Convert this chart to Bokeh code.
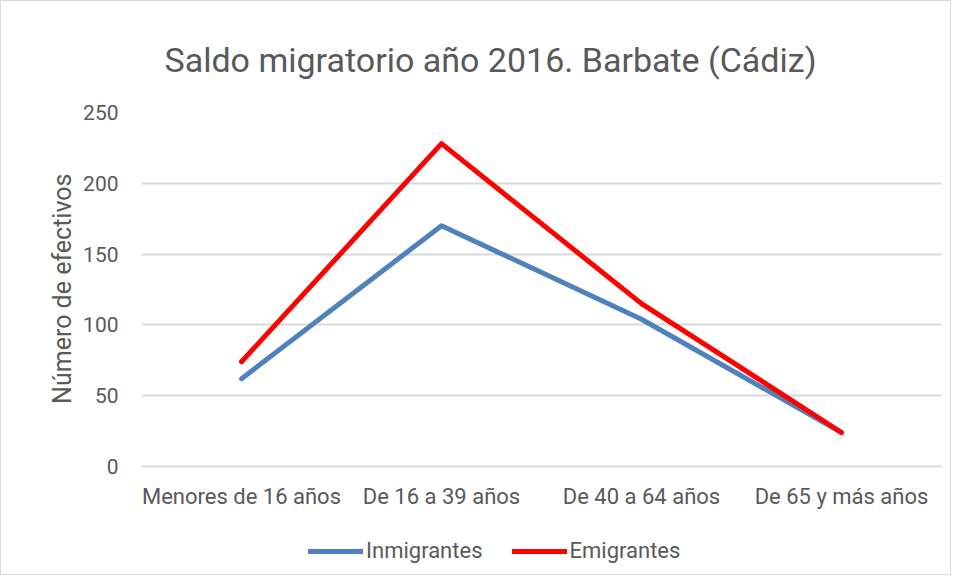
from bokeh.plotting import figure
from bokeh.models import Legend, LegendItem, ColumnDataSource, FixedTicker, Title
from bokeh.embed import file_html
from bokeh.resources import INLINE

categorias = ["Menores de 16 años", "De 16 a 39 años", "De 40 a 64 años", "De 65 y más años"]
inmigrantes = [62, 170, 104, 24]
emigrantes = [74, 228, 115, 24]
y_ticks = [0, 50, 100, 150, 200, 250]

FONT = "Roboto"
TXT = "#595959"

src = ColumnDataSource(dict(cat=categorias, inm=inmigrantes, emi=emigrantes))

# frame runs from y=111 to y=575; the value axis 0..250 occupies 111..465,
# the space below 0 holds the category labels and the legend
H, TOP, ZERO_PX = 575, 111, 465
y_start = -(H - ZERO_PX) * 250 / (ZERO_PX - TOP)

p = figure(x_range=categorias, y_range=(y_start, 250), width=951, height=H,
           output_backend="svg", toolbar_location=None,
           min_border_left=140, min_border_right=11, min_border_top=TOP, min_border_bottom=0)

p.title.text = "Saldo migratorio año 2016. Barbate (Cádiz)"
p.title.text_font = FONT
p.title.text_font_size = "34px"
p.title.text_font_style = "normal"
p.title.text_color = TXT
p.title.align = "left"
p.title.offset = 23
p.title.standoff = 66

p.outline_line_color = None
p.styles = {"border": "1px solid #d9d9d9"}

r1 = p.line("cat", "inm", source=src, line_color="#4f81bd", line_width=5, line_join="round", line_cap="round")
r2 = p.line("cat", "emi", source=src, line_color="#ff0000", line_width=5, line_join="round", line_cap="round")

p.yaxis.ticker = FixedTicker(ticks=y_ticks)

ylab = Title(text="Número de efectivos", align="right", offset=61, standoff=8,
             text_font=FONT, text_font_size="25px", text_font_style="normal", text_color=TXT)
p.add_layout(ylab, "left")

for ax in (p.xaxis[0], p.yaxis[0]):
    ax.axis_line_color = None
    ax.major_tick_line_color = None
    ax.minor_tick_line_color = None
    ax.major_label_text_font = FONT
    ax.major_label_text_color = TXT
p.yaxis.major_label_text_font_size = "21px"
p.xaxis.major_label_text_font_size = "22px"
p.yaxis.major_label_standoff = 17
p.xaxis.major_label_standoff = 11
p.xaxis.fixed_location = 0

p.xgrid.grid_line_color = None
p.ygrid.grid_line_color = "#d9d9d9"
p.ygrid.grid_line_width = 2

legend = Legend(items=[LegendItem(label="Inmigrantes", renderers=[r1]),
                       LegendItem(label="Emigrantes", renderers=[r2])],
                orientation="horizontal", location=(167, 13))
legend.label_text_font = FONT
legend.label_text_font_size = "22px"
legend.label_text_color = TXT
legend.glyph_width = 55
legend.glyph_height = 20
legend.label_standoff = 3
legend.spacing = 29
legend.padding = 0
legend.margin = 0
legend.border_line_color = None
legend.background_fill_alpha = 0
p.add_layout(legend, "center")

open("out.html", "w").write(file_html(p, INLINE))
